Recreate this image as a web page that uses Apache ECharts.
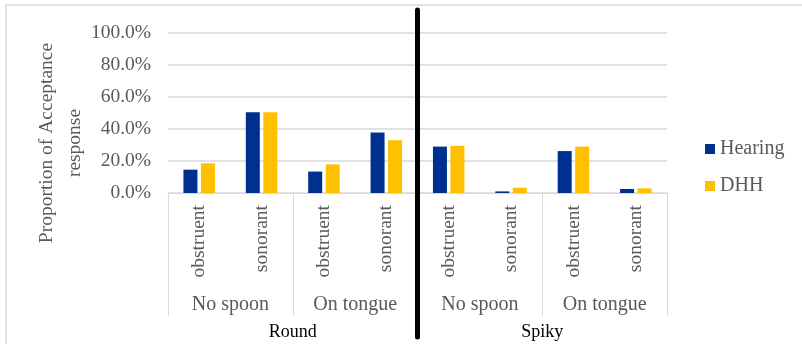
<!DOCTYPE html>
<html>
<head>
<meta charset="utf-8">
<script src="https://cdn.jsdelivr.net/npm/echarts@6/dist/echarts.min.js"></script>
<style>
  html, body { margin: 0; padding: 0; background: #fff; }
  #chart { width: 802px; height: 344px; }
</style>
</head>
<body>
<div id="chart"></div>
<script>
// data
const soundTypes = ['obstruent', 'sonorant', 'obstruent', 'sonorant', 'obstruent', 'sonorant', 'obstruent', 'sonorant'];
const conditions = ['No spoon', 'On tongue', 'No spoon', 'On tongue'];
const shapes = ['Round', 'Spiky'];
const hearing = [14.6, 50.4, 13.4, 37.8, 29.0, 1.0, 26.2, 2.5];
const dhh = [18.5, 50.4, 17.9, 33.0, 29.5, 3.3, 29.0, 2.9];
const yTicks = [0, 20, 40, 60, 80, 100];

const GRID_LEFT = 168, GRID_RIGHT = 135, GRID_TOP = 33, GRID_BOTTOM = 151;
const FONT = 'Liberation Serif';
const GREY = '#595959';

let chart = echarts.init(document.getElementById('chart'), null, {renderer: 'canvas'});
let plotW = 802 - GRID_LEFT - GRID_RIGHT;
let dividerX = GRID_LEFT + plotW / 2;

let option = {
    animation: false,
    textStyle: {fontFamily: FONT},
    grid: {
        left: GRID_LEFT, right: GRID_RIGHT, top: GRID_TOP, bottom: GRID_BOTTOM,
        containLabel: false,
        outerBoundsMode: 'none'
    },
    legend: {
        orient: 'vertical',
        left: 700,
        top: 134,
        icon: 'rect',
        itemWidth: 10,
        itemHeight: 10,
        itemGap: 17,
        textStyle: {fontFamily: FONT, fontSize: 20, color: GREY},
        data: ['Hearing', 'DHH']
    },
    xAxis: [
        {
            type: 'category',
            position: 'bottom',
            data: soundTypes,
            axisLine: {lineStyle: {color: '#d9d9d9', width: 1}},
            axisTick: {show: false},
            axisLabel: {rotate: 90, margin: 12, interval: 0, fontFamily: FONT, fontSize: 19.5, color: GREY}
        },
        {
            type: 'category',
            position: 'bottom',
            offset: 0,
            data: conditions,
            axisLine: {show: false},
            axisTick: {show: true, length: 123, interval: 0, lineStyle: {color: '#d9d9d9', width: 1}},
            axisLabel: {margin: 102, interval: 0, fontFamily: FONT, fontSize: 20, color: GREY}
        },
        {
            type: 'category',
            position: 'bottom',
            offset: 0,
            data: shapes,
            axisLine: {show: false},
            axisTick: {show: false},
            axisLabel: {margin: 130, interval: 0, fontFamily: FONT, fontSize: 18, color: '#000'}
        }
    ],
    yAxis: {
        type: 'value',
        min: yTicks[0],
        max: yTicks[yTicks.length - 1],
        interval: 20,
        name: 'Proportion of Acceptance\nresponse',
        nameLocation: 'middle',
        nameRotate: 90,
        nameGap: 79,
        nameMoveOverlap: false,
        nameTextStyle: {fontFamily: FONT, fontSize: 19.5, color: GREY, lineHeight: 28, padding: [0, 60, 0, 0]},
        axisLine: {show: false},
        axisTick: {show: false},
        splitLine: {lineStyle: {color: '#d9d9d9', width: 1.5}},
        axisLabel: {
            margin: 17,
            fontFamily: FONT,
            fontSize: 19.5,
            color: GREY,
            formatter: v => v.toFixed(1) + '%'
        }
    },
    series: [
        {
            name: 'Hearing',
            type: 'bar',
            xAxisIndex: 0,
            data: hearing,
            barWidth: 14,
            barGap: '25%',
            itemStyle: {color: '#00308f'}
        },
        {
            name: 'DHH',
            type: 'bar',
            xAxisIndex: 0,
            data: dhh,
            barWidth: 14,
            barGap: '25%',
            itemStyle: {color: '#ffc000'}
        }
    ],
    graphic: [
        {
            type: 'rect',
            shape: {x: 6, y: 5, width: 800, height: 350},
            style: {fill: 'none', stroke: '#d9d9d9', lineWidth: 1.5},
            silent: true
        },
        {
            type: 'line',
            shape: {x1: dividerX, y1: 10, x2: dividerX, y2: 337},
            style: {stroke: '#000', lineWidth: 5, lineCap: 'round'},
            z: 100
        }
    ]
};

chart.setOption(option);
</script>
</body>
</html>
